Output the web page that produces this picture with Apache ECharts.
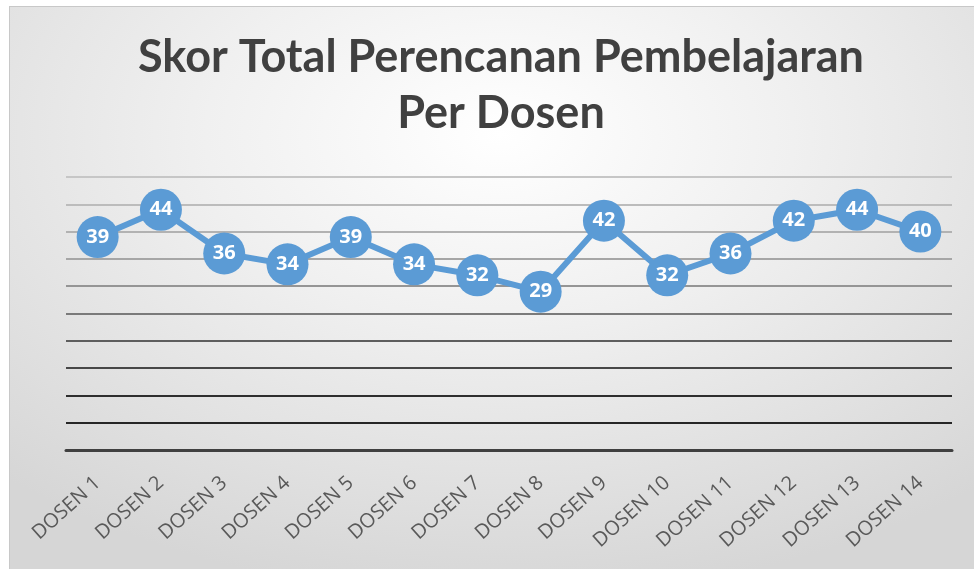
<!DOCTYPE html>
<html>
<head>
<meta charset="utf-8">
<script src="https://cdn.jsdelivr.net/npm/echarts@6/dist/echarts.min.js"></script>
<style>
html,body{margin:0;padding:0;background:#fff;width:974px;height:569px;overflow:hidden;}
#frame{position:absolute;left:9px;top:6px;width:980px;height:580px;border:1px solid #c8c8c8;
background:radial-gradient(ellipse 75% 80% at 50% 22%, #ffffff 0%, #f0f0f0 40%, #d6d6d6 100%);}
#chart{position:absolute;left:0;top:0;width:974px;height:569px;}
</style>
</head>
<body>
<div id="frame"></div>
<div id="chart"></div>
<script>
const titleText = 'Skor Total Perencanan Pembelajaran\nPer Dosen';
const categories = ['DOSEN 1','DOSEN 2','DOSEN 3','DOSEN 4','DOSEN 5','DOSEN 6','DOSEN 7','DOSEN 8','DOSEN 9','DOSEN 10','DOSEN 11','DOSEN 12','DOSEN 13','DOSEN 14'];
const scores = [39,44,36,34,39,34,32,29,42,32,36,42,44,40];
const yMin = 0, yMax = 50, yStep = 5;

const gridColors = ['#404040','#262626','#2e2e2e','#474747','#5e5e5e','#7a7a7a','#959595','#a6a6a6','#b2b2b2','#bcbcbc','#c6c6c6'];

const chart = echarts.init(document.getElementById('chart'), null, {renderer:'canvas'});
chart.setOption({
  backgroundColor: 'transparent',
  animation: false,
  title: {
    text: titleText,
    left: 496, top: 24, textAlign: 'center',
    textStyle: {fontFamily: 'Lato', fontWeight: 'bold', fontSize: 45, color: '#404040', lineHeight: 56}
  },
  grid: {left: 66, right: 22, top: 177, bottom: 119, containLabel: false},
  xAxis: {
    type: 'category', data: categories, boundaryGap: true,
    axisLine: {show: true, lineStyle: {color: '#404040', width: 3}},
    axisTick: {show: false},
    axisLabel: {rotate: 42, interval: 0, fontFamily: 'Open Sans', fontSize: 20, color: '#595959', margin: 30}
  },
  yAxis: {
    type: 'value', min: yMin, max: yMax, interval: yStep,
    axisLine: {show: false}, axisTick: {show: false}, axisLabel: {show: false},
    splitLine: {show: true, lineStyle: {color: gridColors, width: 2}}
  },
  series: [{
    type: 'line', data: scores,
    symbol: 'circle', symbolSize: 42,
    lineStyle: {color: '#5b9bd5', width: 6},
    itemStyle: {color: '#5b9bd5'},
    label: {show: true, position: 'inside', color: '#ffffff', fontFamily: 'Open Sans', fontWeight: 'bold', fontSize: 20}
  }]
});
</script>
</body>
</html>
